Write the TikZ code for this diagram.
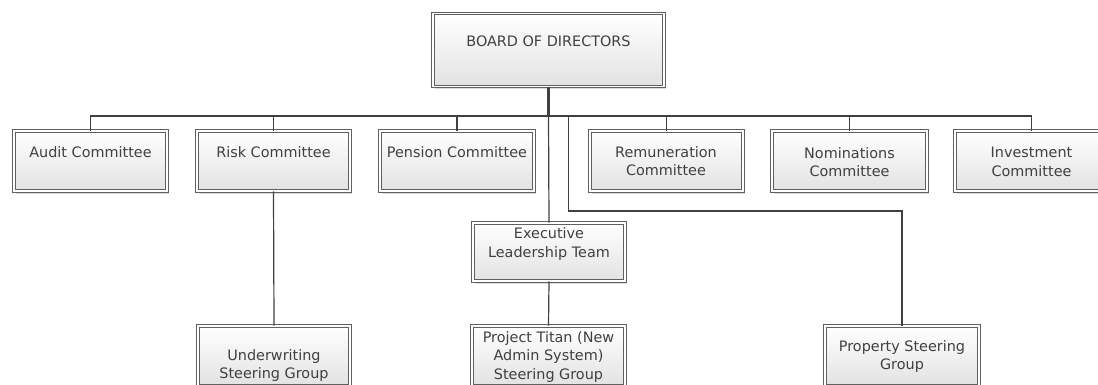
\documentclass[tikz,border=0pt]{standalone}
\usepackage{fontspec}
\setmainfont{DejaVu Sans}
\usepackage{xcolor}
\usepackage{tikz}
\usetikzlibrary{positioning, calc, shadows}
\definecolor{framegray}{RGB}{96, 96, 96}
\definecolor{linegray}{RGB}{64, 64, 64}
\definecolor{textgray}{RGB}{64, 64, 64}
\definecolor{fillbottom}{RGB}{226, 226, 226}

\tikzset{
    orgbox/.style={draw=framegray, line width=0.9pt, double=white, double distance=1.5pt,
          top color=white, bottom color=fillbottom, inner sep=0pt,
          drop shadow={shadow xshift=2pt, shadow yshift=-2.5pt, fill=black!30, opacity=.45}},
    boxtext/.style={text=textgray, font=\fontsize{14.4}{18.5}\selectfont, align=center, inner sep=0pt},
    link/.style={draw=linegray, line width=1.2pt},
}

\begin{document}
\begin{tikzpicture}[x=1pt, y=-1pt]
    \fill[white] (0,0) rectangle (1098,385);
    \useasboundingbox (0,0) rectangle (1098,385);
    \clip (0,0) rectangle (1098,385);

    % boxes
    \node[orgbox, minimum width=231pt, minimum height=73pt] (board) at (548.5,50) {};
    \node[orgbox, minimum width=153pt, minimum height=60pt] (audit) at (90.5,161) {};
    \node[orgbox, minimum width=153pt, minimum height=60pt] (risk) at (273.5,161) {};
    \node[orgbox, minimum width=154pt, minimum height=60pt] (pension) at (457,161) {};
    \node[orgbox, minimum width=153pt, minimum height=60pt] (remun) at (666.5,161) {};
    \node[orgbox, minimum width=155pt, minimum height=60pt] (nomin) at (849.5,161) {};
    \node[orgbox, minimum width=153pt, minimum height=60pt] (invest) at (1031.5,161) {};
    \node[orgbox, minimum width=152pt, minimum height=58pt] (elt) at (549,252) {};
    \node[orgbox, minimum width=152pt, minimum height=60pt] (uwsg) at (274,356) {};
    \node[orgbox, minimum width=153pt, minimum height=60pt] (titan) at (548.5,356) {};
    \node[orgbox, minimum width=154pt, minimum height=60pt] (propsg) at (902,356) {};

    % texts
    \node[boxtext] (board-t) at (548.5,41) {BOARD OF DIRECTORS};
    \node[boxtext] (audit-t) at (90.5,152) {Audit Committee};
    \node[boxtext] (risk-t) at (273.5,152) {Risk Committee};
    \node[boxtext] (pension-t) at (457,152) {Pension Committee};
    \node[boxtext] (remun-t) at (666,161) {Remuneration\\Committee};
    \node[boxtext] (nomin-t) at (849.5,162) {Nominations\\Committee};
    \node[boxtext] (invest-t) at (1031.5,162) {Investment\\Committee};
    \node[boxtext] (elt-t) at (549,244) {Executive\\Leadership Team};
    \node[boxtext] (uwsg-t) at (274,365.5) {Underwriting\\Steering Group};
    \node[boxtext] (titan-t) at (548.5,357) {Project Titan (New\\Admin System)\\Steering Group};
    \node[boxtext] (propsg-t) at (902,356.5) {Property Steering\\Group};

    % connectors
    \coordinate (bus) at (548.5,116);
    \coordinate (tap) at (568.5,116);
    \draw[link, line width=2.2pt] (board.south) -- (bus);
    \foreach \n in {audit, risk, pension, remun, nomin, invest}
        \draw[link] (bus) -| (\n.north);
    \draw[link] (bus) -- (elt.north);
    \draw[link] (tap) -- ++(0,95) -| (propsg.north);
    \draw[link] (risk.south) -- (uwsg.north);
    \draw[link] (elt.south) -- (titan.north);
\end{tikzpicture}
\end{document}
